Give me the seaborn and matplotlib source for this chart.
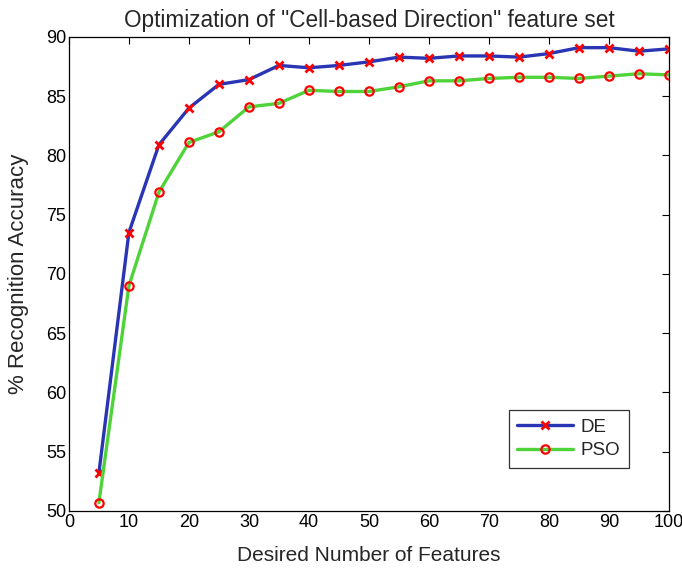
import pandas as pd
import matplotlib
matplotlib.use("Agg")
import matplotlib.pyplot as plt
import seaborn as sns

# Datos
features = [5, 10, 15, 20, 25, 30, 35, 40, 45, 50, 55, 60, 65, 70, 75, 80, 85, 90, 95, 100]
de_acc = [53.2, 73.5, 80.9, 84.0, 86.0, 86.4, 87.6, 87.4, 87.6, 87.9, 88.3, 88.2, 88.4, 88.4, 88.3, 88.6, 89.1, 89.1, 88.8, 89.0]
pso_acc = [50.7, 69.0, 76.9, 81.1, 82.0, 84.1, 84.4, 85.5, 85.4, 85.4, 85.8, 86.3, 86.3, 86.5, 86.6, 86.6, 86.5, 86.7, 86.9, 86.8]
x_ticks = list(range(0, 101, 10))
y_ticks = list(range(50, 91, 5))

df = pd.DataFrame({"features": features, "DE": de_acc, "PSO": pso_acc})

sns.set_style("white")
plt.rcParams["font.family"] = ["Liberation Sans", "DejaVu Sans"]

fig = plt.figure(figsize=(6.82, 5.69), dpi=100)
ax = fig.add_axes([0.101, 0.102, 0.88, 0.833])

sns.lineplot(data=df, x="features", y="DE", ax=ax, color="#2a35b5", linewidth=2.4,
             marker="x", markersize=6, markeredgecolor="red", markeredgewidth=2,
             label="DE")
sns.lineplot(data=df, x="features", y="PSO", ax=ax, color="#4fd33a", linewidth=2.4,
             marker="o", markersize=6, markerfacecolor="none", markeredgecolor="red",
             markeredgewidth=1.6, label="PSO")

ax.set_xlim(0, 100)
ax.set_ylim(50, 90)
ax.set_xticks(x_ticks)
ax.set_yticks(y_ticks)
ax.tick_params(direction="in", top=True, right=True, length=5, width=0.8,
               labelsize=13, colors="black", pad=2)
for s in ax.spines.values():
    s.set_color("black")
    s.set_linewidth(0.9)

ax.set_title('Optimization of "Cell-based Direction" feature set', fontsize=16.3, pad=7)
ax.set_xlabel("Desired Number of Features", fontsize=15, labelpad=11)
ax.set_ylabel("% Recognition Accuracy", fontsize=16, labelpad=12)

leg = ax.legend(loc="lower right", bbox_to_anchor=(0.933, 0.091), borderaxespad=0,
                fontsize=13.5, frameon=True, fancybox=False, handlelength=3.0,
                borderpad=0.45, labelspacing=0.35, handletextpad=0.4)
leg.get_frame().set_edgecolor("black")
leg.get_frame().set_linewidth(0.9)

fig.savefig("out.png", dpi=100)
